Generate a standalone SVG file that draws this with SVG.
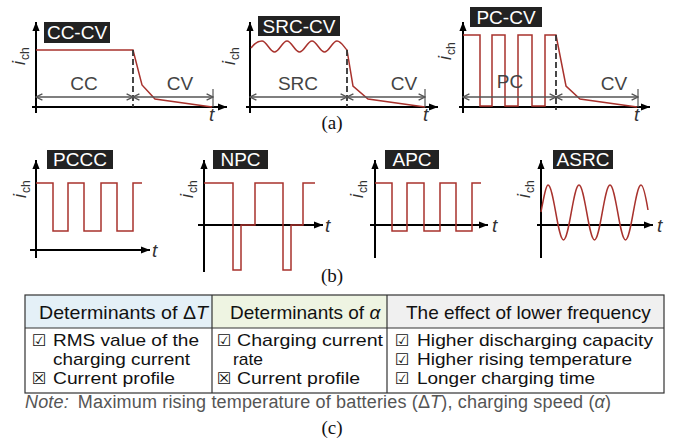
<svg xmlns="http://www.w3.org/2000/svg" width="674" height="445" viewBox="0 0 674 445">
<defs>
<style>
.ax{stroke:#000;stroke-width:2;fill:none}
.wv{stroke:#a8322d;stroke-width:1.5;fill:none;stroke-linejoin:miter}
.dim{stroke:#555;stroke-width:1.5;fill:none}
.dash{stroke:#333;stroke-width:1.8;stroke-dasharray:6 3;fill:none}
.tick{stroke:#555;stroke-width:1.2}
.box{fill:#222}
.bt{font-family:"Liberation Sans",Arial,sans-serif;font-size:19px;fill:#fff;text-anchor:middle}
.ph{font-family:"Liberation Sans",Arial,sans-serif;font-size:19px;fill:#444;text-anchor:middle}
.ich{font-family:"Liberation Sans",Arial,sans-serif;font-size:18px;font-style:italic;fill:#333}
.sub{font-size:12px;font-style:normal}
.t{font-family:"Liberation Sans",Arial,sans-serif;font-size:19px;font-style:italic;fill:#333}
.cap{font-family:"Liberation Serif","Times New Roman",serif;font-size:19px;fill:#111;text-anchor:middle}
.th{font-family:"Liberation Sans",Arial,"DejaVu Sans",sans-serif;font-size:19px;fill:#111}
.tb{font-family:"Liberation Sans",Arial,"DejaVu Sans",sans-serif;font-size:17px;fill:#111}
.ck{font-family:"DejaVu Sans",sans-serif;font-size:16px;fill:#111}
.note{font-family:"Liberation Sans",Arial,sans-serif;font-size:18px;fill:#555}
.grid{fill:none;stroke:#333;stroke-width:1.2}
</style>
<marker id="arr" viewBox="0 0 10 10" refX="10" refY="5" markerWidth="9" markerHeight="9" markerUnits="userSpaceOnUse" orient="auto"><path d="M0,1 L10,5 L0,9 z" fill="#000"/></marker>
<marker id="dm" viewBox="0 0 10 10" refX="9" refY="5" markerWidth="8" markerHeight="8" markerUnits="userSpaceOnUse" orient="auto-start-reverse"><path d="M1,1 L9,5 L1,9" fill="none" stroke="#555" stroke-width="1.7"/></marker>
</defs>

<!-- (a) CC-CV -->
<g id="cc-cv">
<line class="ax" x1="36" y1="113" x2="36" y2="22" marker-end="url(#arr)"/>
<line class="ax" x1="32" y1="107" x2="227" y2="107" marker-end="url(#arr)"/>
<path class="wv" d="M36,50 H133 L142,85 L155,99 L212,107"/>
<line class="dash" x1="133" y1="50" x2="133" y2="107"/>
<line class="dim" x1="36" y1="97" x2="133" y2="97" marker-start="url(#dm)" marker-end="url(#dm)"/>
<line class="dim" x1="133" y1="97" x2="213" y2="97" marker-start="url(#dm)" marker-end="url(#dm)"/>
<line class="tick" x1="213" y1="89" x2="213" y2="107"/>
<rect class="box" x="44" y="22" width="66" height="21"/>
<text class="bt" x="77" y="39">CC-CV</text>
<text class="ph" x="84" y="90">CC</text>
<text class="ph" x="180" y="90">CV</text>
<text class="ich" transform="translate(25,65) rotate(-90)">i<tspan class="sub" dy="4" dx="1">ch</tspan></text>
<text class="t" x="209" y="121">t</text>
</g>

<!-- (a) SRC-CV -->
<g id="src-cv">
<line class="ax" x1="250" y1="113" x2="250" y2="22" marker-end="url(#arr)"/>
<line class="ax" x1="246" y1="107" x2="438" y2="107" marker-end="url(#arr)"/>
<path class="wv" d="M251,48 C254,44 258,41 262,41 C266.5,41 270,52 274.5,52 C279,52 282.5,41 287,41 C291.5,41 295,52 299.5,52 C304,52 307.5,41 312,41 C316.5,41 320,52 324.5,52 C329,52 332.5,41 337,41 C341,41 344,47 347,50 L353,86 L368,99 L425,107"/>
<line class="dash" x1="347" y1="50" x2="347" y2="107"/>
<line class="dim" x1="250" y1="97" x2="347" y2="97" marker-start="url(#dm)" marker-end="url(#dm)"/>
<line class="dim" x1="347" y1="97" x2="425" y2="97" marker-start="url(#dm)" marker-end="url(#dm)"/>
<line class="tick" x1="425" y1="89" x2="425" y2="107"/>
<rect class="box" x="258" y="16" width="82" height="20"/>
<text class="bt" x="299" y="32.5">SRC-CV</text>
<text class="ph" x="298" y="90">SRC</text>
<text class="ph" x="404" y="90">CV</text>
<text class="ich" transform="translate(235,65) rotate(-90)">i<tspan class="sub" dy="4" dx="1">ch</tspan></text>
<text class="t" x="423" y="121">t</text>
<text class="cap" x="332" y="129">(a)</text>
</g>

<!-- (a) PC-CV -->
<g id="pc-cv">
<line class="ax" x1="463" y1="113" x2="463" y2="22" marker-end="url(#arr)"/>
<line class="ax" x1="459" y1="107" x2="650" y2="107" marker-end="url(#arr)"/>
<path class="wv" d="M463,35 H480 V106 H492 V35 H505 V106 H518 V35 H532 V106 H545 V35 H556 L566,86 L580,99 L637,107"/>
<line class="dash" x1="556" y1="35" x2="556" y2="110"/>
<line class="dim" x1="463" y1="97" x2="556" y2="97" marker-start="url(#dm)" marker-end="url(#dm)"/>
<line class="dim" x1="556" y1="97" x2="638" y2="97" marker-start="url(#dm)" marker-end="url(#dm)"/>
<line class="tick" x1="638" y1="89" x2="638" y2="107"/>
<rect class="box" x="470" y="7" width="72" height="20"/>
<text class="bt" x="506" y="23.5">PC-CV</text>
<text class="ph" x="510" y="88">PC</text>
<text class="ph" x="614" y="90">CV</text>
<text class="ich" transform="translate(451,60) rotate(-90)">i<tspan class="sub" dy="4" dx="1">ch</tspan></text>
<text class="t" x="634" y="121">t</text>
</g>

<!-- (b) PCCC -->
<g id="pccc">
<line class="ax" x1="36" y1="258" x2="36" y2="160" marker-end="url(#arr)"/>
<line class="ax" x1="30" y1="250" x2="150" y2="250" marker-end="url(#arr)"/>
<path class="wv" d="M36,183 H53 V231 H68 V183 H84 V231 H101 V183 H117 V231 H133 V183 H142"/>
<rect class="box" x="47" y="150" width="66" height="19"/>
<text class="bt" x="80" y="166">PCCC</text>
<text class="ich" transform="translate(26,198) rotate(-90)">i<tspan class="sub" dy="4" dx="1">ch</tspan></text>
<text class="t" x="152" y="257">t</text>
</g>

<!-- (b) NPC -->
<g id="npc">
<line class="ax" x1="204" y1="272" x2="204" y2="160" marker-end="url(#arr)"/>
<line class="ax" x1="198" y1="225" x2="323" y2="225" marker-end="url(#arr)"/>
<path class="wv" d="M204,183 H233 V270 H241 V225 H255 V183 H283 V270 H291 V225 H303 V183 H315"/>
<rect class="box" x="213" y="150" width="55" height="19"/>
<text class="bt" x="240.5" y="166">NPC</text>
<text class="ich" transform="translate(193,198) rotate(-90)">i<tspan class="sub" dy="4" dx="1">ch</tspan></text>
<text class="t" x="325" y="232">t</text>
<text class="cap" x="332" y="282">(b)</text>
</g>

<!-- (b) APC -->
<g id="apc">
<line class="ax" x1="375" y1="258" x2="375" y2="160" marker-end="url(#arr)"/>
<line class="ax" x1="370" y1="225" x2="488" y2="225" marker-end="url(#arr)"/>
<path class="wv" d="M375,183 H392 V231 H407 V183 H424 V231 H440 V183 H456 V231 H472 V183 H481"/>
<rect class="box" x="385" y="150" width="54" height="19"/>
<text class="bt" x="412" y="166">APC</text>
<text class="ich" transform="translate(363,198) rotate(-90)">i<tspan class="sub" dy="4" dx="1">ch</tspan></text>
<text class="t" x="492" y="232">t</text>
</g>

<!-- (b) ASRC -->
<g id="asrc">
<line class="ax" x1="541" y1="258" x2="541" y2="160" marker-end="url(#arr)"/>
<line class="ax" x1="537" y1="225" x2="653" y2="225" marker-end="url(#arr)"/>
<path class="wv" d="M541,212 C543.6,198 546,185 548,185 C553.6,185 557.9,240 563.5,240 C569.1,240 573.4,185 579,185 C584.6,185 588.9,240 594.5,240 C600.1,240 604.4,185 610,185 C615.6,185 619.9,240 625.5,240 C631.1,240 635.4,185 641,185 C643.5,185 646,198 648,210"/>
<rect class="box" x="553" y="150" width="60" height="19"/>
<text class="bt" x="583" y="166">ASRC</text>
<text class="ich" transform="translate(530,198) rotate(-90)">i<tspan class="sub" dy="4" dx="1">ch</tspan></text>
<text class="t" x="657" y="232">t</text>
</g>

<!-- (c) table -->
<g id="table">
<rect x="25" y="295" width="187" height="33" fill="#e4f0f7"/>
<rect x="212" y="295" width="175" height="33" fill="#eef4e2"/>
<rect x="387" y="295" width="277" height="33" fill="#f0f0f0"/>
<rect class="grid" x="25" y="295" width="639" height="98"/>
<line class="grid" x1="25" y1="328" x2="664" y2="328"/>
<line class="grid" x1="212" y1="295" x2="212" y2="393"/>
<line class="grid" x1="387" y1="295" x2="387" y2="393"/>
<text class="th" x="39" y="319" textLength="169" lengthAdjust="spacingAndGlyphs">Determinants of Δ<tspan font-style="italic">T</tspan></text>
<text class="th" x="230" y="319">Determinants of <tspan font-style="italic">α</tspan></text>
<text class="th" x="406" y="319">The effect of lower frequency</text>

<text class="ck" x="32" y="346">☑</text>
<text class="tb" x="53" y="346" textLength="146" lengthAdjust="spacingAndGlyphs">RMS value of the</text>
<text class="tb" x="53" y="365" textLength="137" lengthAdjust="spacingAndGlyphs">charging current</text>
<text class="ck" x="32" y="384">☒</text>
<text class="tb" x="53" y="384" textLength="122" lengthAdjust="spacingAndGlyphs">Current profile</text>

<text class="ck" x="217" y="346">☑</text>
<text class="tb" x="237" y="346" textLength="146" lengthAdjust="spacingAndGlyphs">Charging current</text>
<text class="tb" x="233" y="365" textLength="30" lengthAdjust="spacingAndGlyphs">rate</text>
<text class="ck" x="217" y="384">☒</text>
<text class="tb" x="237" y="384" textLength="123" lengthAdjust="spacingAndGlyphs">Current profile</text>

<text class="ck" x="395" y="346">☑</text>
<text class="tb" x="417" y="346" textLength="236" lengthAdjust="spacingAndGlyphs">Higher discharging capacity</text>
<text class="ck" x="395" y="365">☑</text>
<text class="tb" x="417" y="365" textLength="215" lengthAdjust="spacingAndGlyphs">Higher rising temperature</text>
<text class="ck" x="395" y="384">☑</text>
<text class="tb" x="417" y="384" textLength="178" lengthAdjust="spacingAndGlyphs">Longer charging time</text>

<text class="note" x="25" y="408" textLength="586" lengthAdjust="spacing"><tspan font-style="italic">Note:</tspan><tspan dx="9">Maximum rising temperature of batteries (Δ</tspan><tspan font-style="italic">T</tspan>), charging speed (<tspan font-style="italic">α</tspan>)</text>
<text class="cap" x="332" y="434">(c)</text>
</g>
</svg>
